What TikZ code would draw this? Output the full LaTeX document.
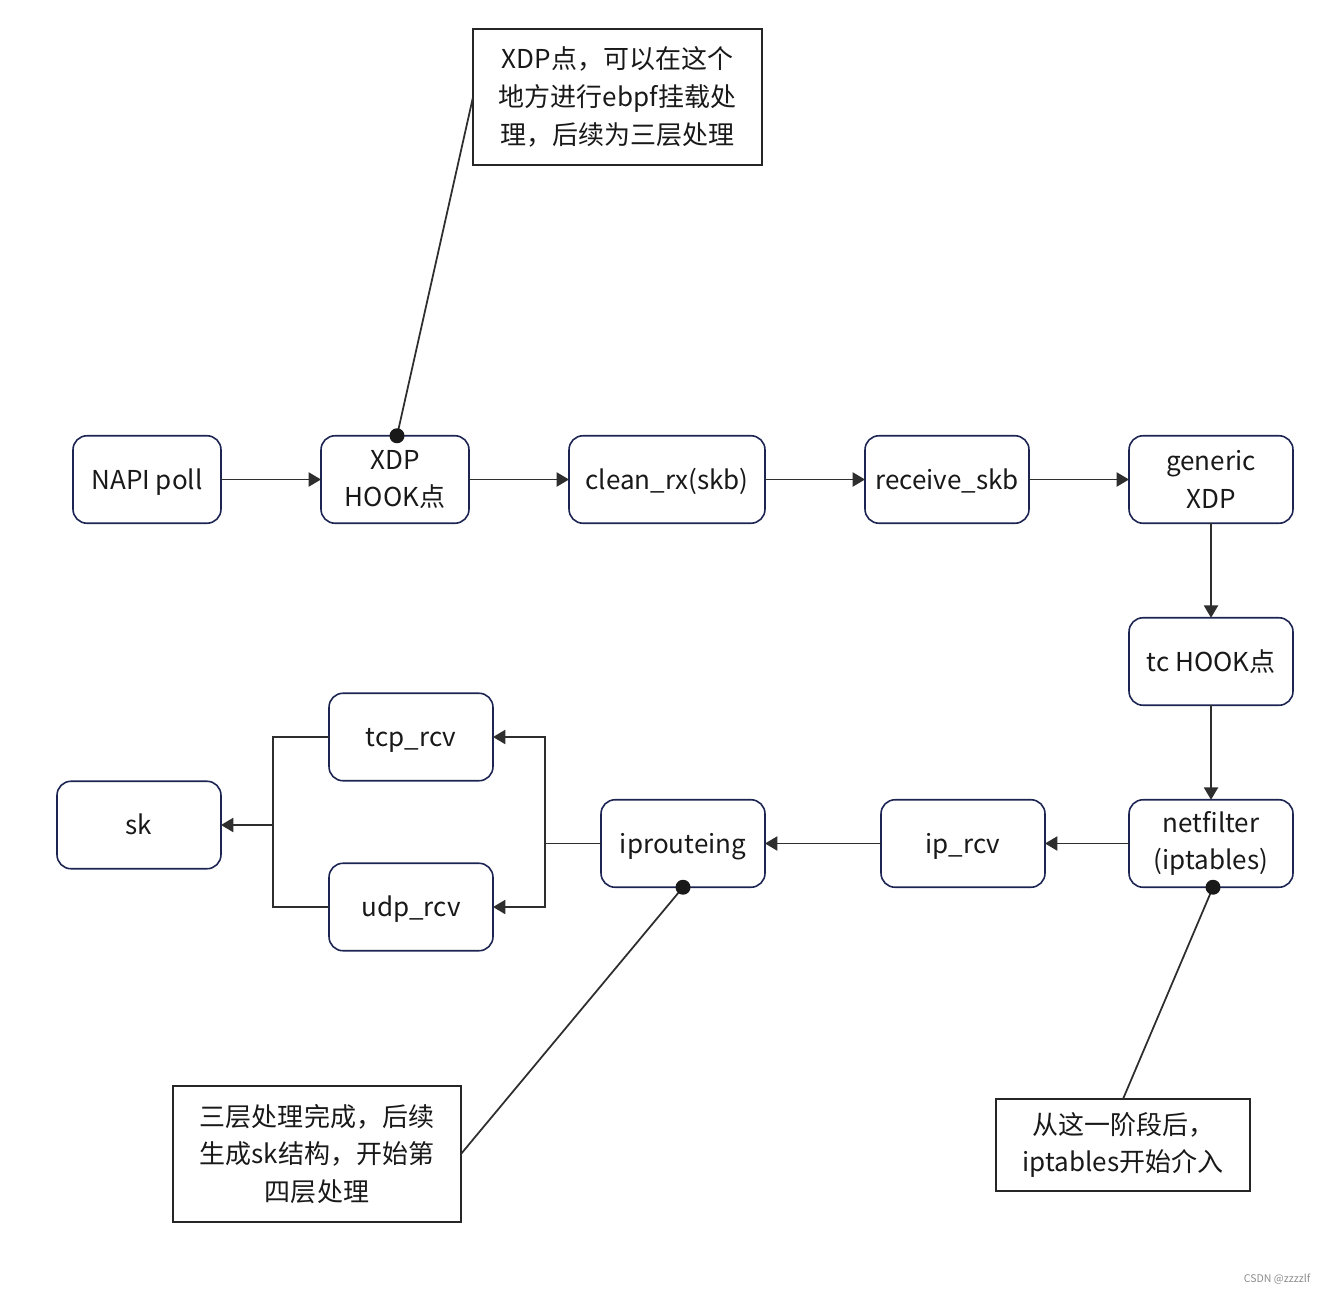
\documentclass[tikz,border=0pt]{standalone}
\usepackage{fontspec}
\setmainfont{Noto Sans CJK SC}
\usetikzlibrary{positioning}
\usetikzlibrary{shapes,arrows.meta,calc}
\definecolor{boxnavy}{HTML}{1C2452}
\definecolor{linegray}{HTML}{2E2E2E}
\newcommand{\stageheight}{1.75cm}
\newcommand{\stagewidth}{3.28cm}
\newcommand{\napiwidth}{2.96cm}
\newcommand{\cleanwidth}{3.92cm}

\begin{document}
\begin{tikzpicture}[x=0.02cm, y=-0.02cm, outer sep=0pt]
\tikzstyle{stage}=[
    draw=boxnavy,
    rectangle,
    rounded corners=0.28cm,
    line width=0.9pt,
    minimum height=\stageheight,
    minimum width=\stagewidth,
    align=center,
    fill=white,
    text=black!90,
    font=\fontsize{14.8}{21.5}\selectfont]
\tikzstyle{oneline}=[
    text height=12pt,
    text depth=1pt]
\tikzstyle{note}=[
    draw=black!85,
    rectangle,
    line width=0.8pt,
    align=center,
    inner sep=0pt,
    text=black!90,
    font=\fontsize{14.8}{21.5}\selectfont]
\tikzstyle{flow}=[
    draw=linegray,
    line width=1pt,
    -{Triangle[length=7pt,width=8pt]}]
\tikzstyle{link}=[
    draw=linegray,
    line width=1pt]
\tikzstyle{pin}=[
    circle,
    fill=black!90,
    inner sep=0pt,
    minimum size=0.3cm]
\useasboundingbox (0,0) rectangle (1328,1294);

% top row
\node[stage, oneline, minimum width=\napiwidth] (napi) at (147,479.5) {NAPI poll};
\node[stage, minimum width=\napiwidth] (xdphook) at (395,479.5) {XDP\\HOOK点};
\node[stage, oneline, minimum width=\cleanwidth] (cleanrx) at (667,479.5) {clean\_rx(skb)};
\node[stage, oneline] (recvskb) at (947,479.5) {receive\_skb};
\node[stage] (genxdp) at (1211,479.5) {generic\\XDP};

% right column
\node[stage, oneline] (tchook) at (1211,661.5) {tc HOOK点};
\node[stage] (netfilter) at (1211,843.5) {netfilter\\(iptables)};

% bottom row
\node[stage, oneline] (iprcv) at (963,843.5) {ip\_rcv};
\node[stage, oneline] (iproute) at (683,843.5) {iprouteing};
\node[stage, oneline] (tcprcv) at (411,737) {tcp\_rcv};
\node[stage, oneline] (udprcv) at (411,907) {udp\_rcv};
\node[stage, oneline] (sk) at (139,825) {sk};

% notes
\node[note, minimum width=5.78cm, minimum height=2.72cm] (xdpnote) at (617.5,97)
    {XDP点，可以在这个\\地方进行ebpf挂载处\\理，后续为三层处理};
\node[note, minimum width=5.76cm, minimum height=2.72cm] (l3note) at (317,1154)
    {三层处理完成，后续\\生成sk结构，开始第\\四层处理};
\node[note, minimum width=5.08cm, minimum height=1.84cm] (iptnote) at (1123,1145)
    {从这一阶段后，\\iptables开始介入};

\draw[flow] (napi) -- (xdphook);
\draw[flow] (xdphook) -- (cleanrx);
\draw[flow] (cleanrx) -- (recvskb);
\draw[flow] (recvskb) -- (genxdp);
\draw[flow] (genxdp) -- (tchook);
\draw[flow] (tchook) -- (netfilter);
\draw[flow] (netfilter) -- (iprcv);
\draw[flow] (iprcv) -- (iproute);

\coordinate (split) at (545,843.5);
\draw[link] (iproute) -- (split);
\draw[flow] (split) |- (tcprcv);
\draw[flow] (split) |- (udprcv);

\coordinate (merge) at (273,825);
\draw[link] (tcprcv.west) -| (merge);
\draw[link] (udprcv.west) -| (merge);
\draw[flow] (merge) -- (sk);

% note pins
\coordinate (xdppos) at ($(xdphook.north)+(2,0)$);
\draw[link] (xdppos) -- (xdpnote.west);
\node[pin] (xdppin) at (xdppos) {};
\coordinate (l3pos) at (iproute.south);
\draw[link] (l3pos) -- (l3note.east);
\node[pin] (l3pin) at (l3pos) {};
\coordinate (iptpos) at ($(netfilter.south)+(2,0)$);
\draw[link] (iptpos) -- (iptnote.north);
\node[pin] (iptpin) at (iptpos) {};

\node[text=black!45, font=\fontsize{6}{7}\selectfont] (mark) at (1277,1279) {CSDN @zzzzlf};

\end{tikzpicture}
\end{document}
